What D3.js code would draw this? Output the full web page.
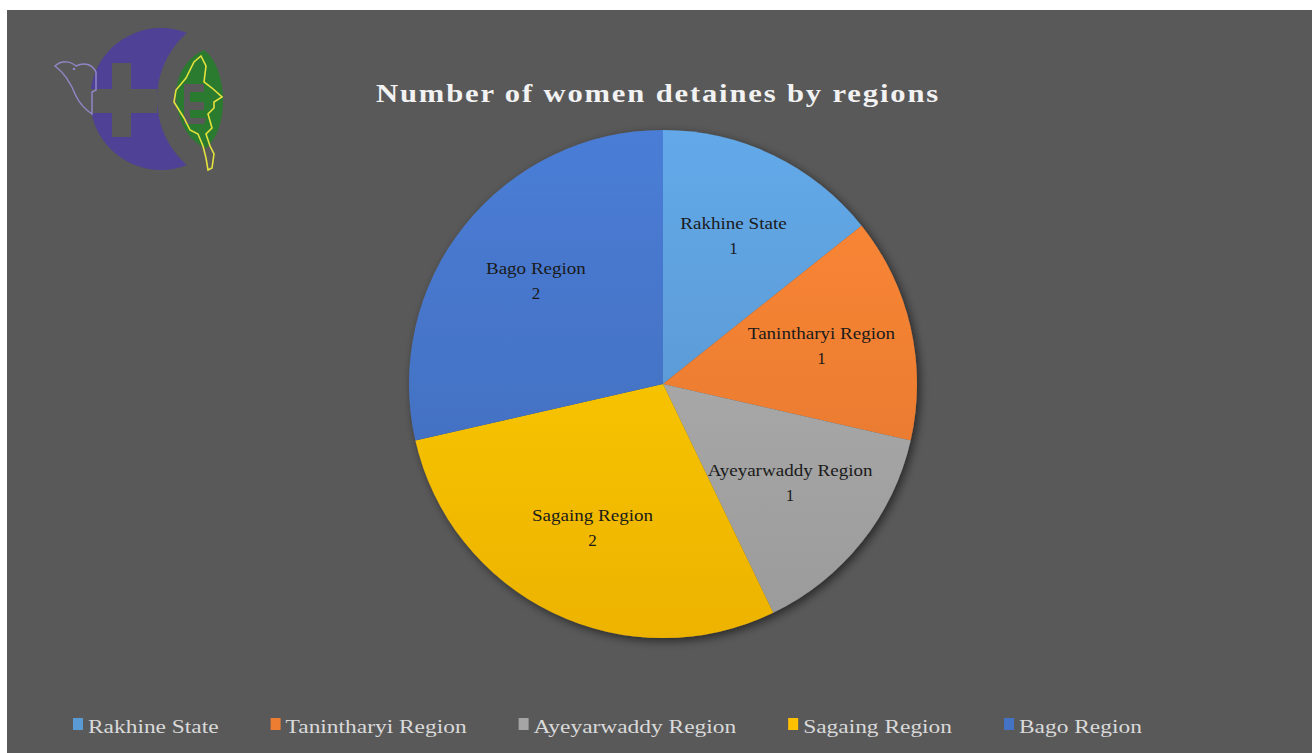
<!DOCTYPE html>
<html>
<head>
<meta charset="utf-8">
<title>Number of women detaines by regions</title>
<script src="https://d3js.org/d3.v7.min.js"></script>
<style>
  body { margin: 0; background: #fff; }
  svg { display: block; }
</style>
</head>
<body>
<div id="chart"></div>
<script>
// data
const regions = ["Rakhine State", "Tanintharyi Region", "Ayeyarwaddy Region", "Sagaing Region", "Bago Region"];
const counts = [1, 1, 1, 2, 2];
const colors = ["#5b9bd5", "#ed7d31", "#a5a5a5", "#ffc000", "#4472c4"];
const title = "Number of women detaines by regions";

const W = 1312, H = 753;
const svg = d3.select("#chart").append("svg")
    .attr("width", W).attr("height", H);

// dark panel (image has a thin white strip top and left)
svg.append("rect")
    .attr("x", 7).attr("y", 10)
    .attr("width", W - 7).attr("height", H - 10)
    .attr("fill", "#595959");

const defs = svg.append("defs");
const cx = 663, cy = 384, r = 254;

const shadow = defs.append("filter").attr("id", "shadow")
    .attr("x", "-20%").attr("y", "-20%").attr("width", "140%").attr("height", "140%");
shadow.append("feDropShadow")
    .attr("dx", 3).attr("dy", 3).attr("stdDeviation", 5)
    .attr("flood-color", "#000").attr("flood-opacity", 0.55);

// office-like vertical gradient per slice colour (group coords)
colors.forEach((c, i) => {
  const g = defs.append("linearGradient").attr("id", "grad" + i)
      .attr("gradientUnits", "userSpaceOnUse")
      .attr("x1", 0).attr("x2", 0).attr("y1", -r).attr("y2", r);
  g.append("stop").attr("offset", "0%").attr("stop-color", d3.color(c).brighter(0.25));
  g.append("stop").attr("offset", "100%").attr("stop-color", d3.color(c).darker(0.2));
});

// title
svg.append("text")
    .attr("x", 376).attr("y", 102)
    .attr("textLength", 564).attr("lengthAdjust", "spacingAndGlyphs")
    .attr("font-family", "Liberation Serif, serif")
    .attr("font-weight", "bold")
    .attr("font-size", 25)
    .attr("letter-spacing", 1.5)
    .attr("fill", "#f2f2f2")
    .text(title);

// pie
const pie = d3.pie().sort(null).value(d => d)(counts);
const arc = d3.arc().innerRadius(0).outerRadius(r);
const labelArc = d3.arc().innerRadius(r * 0.64).outerRadius(r * 0.64);

const g = svg.append("g").attr("transform", `translate(${cx},${cy})`);
g.append("g").attr("filter", "url(#shadow)")
  .selectAll("path")
  .data(pie)
  .join("path")
    .attr("d", arc)
    .attr("fill", (d, i) => "url(#grad" + i + ")");

const labels = g.selectAll("text.lbl")
  .data(pie)
  .join("text")
    .attr("class", "lbl")
    .attr("font-family", "Liberation Serif, serif")
    .attr("font-size", 17)
    .attr("fill", "#1a1a1a")
    .attr("text-anchor", "middle");
labels.each(function (d, i) {
  const [x, y] = labelArc.centroid(d);
  const t = d3.select(this);
  const a = t.append("tspan").attr("x", x).attr("y", y - 9).text(regions[i]);
  a.attr("textLength", a.node().getComputedTextLength() * 1.12).attr("lengthAdjust", "spacingAndGlyphs");
  t.append("tspan").attr("x", x).attr("y", y + 16).text(counts[i]);
});

// legend
const legend = svg.append("g");
let lx = 73;
regions.forEach((name, i) => {
  legend.append("rect")
      .attr("x", lx).attr("y", 718)
      .attr("width", 10).attr("height", 12)
      .attr("fill", colors[i]);
  const t = legend.append("text")
      .attr("x", lx + 15).attr("y", 733)
      .attr("font-family", "Liberation Serif, serif")
      .attr("font-size", 18)
      .attr("fill", "#d9d9d9")
      .text(name);
  const w = t.node().getComputedTextLength() * 1.3;
  t.attr("textLength", w).attr("lengthAdjust", "spacingAndGlyphs");
  lx += 15 + w + 52;
});

// logo (rough drawing)
const logo = svg.append("g");
const cres = defs.append("mask").attr("id", "cres");
cres.append("rect").attr("x", 0).attr("y", 0).attr("width", 300).attr("height", 200).attr("fill", "#fff");
cres.append("circle").attr("cx", 245).attr("cy", 99).attr("r", 88).attr("fill", "#000");
cres.append("rect").attr("x", 85).attr("y", 89).attr("width", 72).attr("height", 24).attr("fill", "#000");
cres.append("rect").attr("x", 112).attr("y", 63).attr("width", 19).attr("height", 74).attr("fill", "#000");
logo.append("circle").attr("cx", 161).attr("cy", 99).attr("r", 71)
    .attr("fill", "#4f4196").attr("mask", "url(#cres)");
// dove
logo.append("path")
    .attr("d", "M55,66 C62,60 70,61 76,66 C84,62 92,64 96,72 L96,90 L92,92 L92,114 C86,110 80,104 76,96 C72,86 66,74 55,66 Z")
    .attr("fill", "none").attr("stroke", "#8f86c6").attr("stroke-width", 1.5);
logo.append("circle").attr("cx", 74).attr("cy", 69).attr("r", 1.3).attr("fill", "#8f86c6");
// leaf + map outline
logo.append("path")
    .attr("d", "M204,50 C228,68 230,128 206,148 C176,138 158,72 204,50 Z")
    .attr("fill", "#2a7b2f");
logo.append("path")
    .attr("d", "M184,84 L204,84 L204,92 L190,92 L190,102 L204,102 L204,110 L190,110 L190,118 L206,118 L204,124 L184,124 Z")
    .attr("fill", "#595959");
logo.append("path")
    .attr("d", "M201,56 L206,66 L204,82 L212,88 L222,97 L214,102 L214,108 L208,114 L212,128 L206,134 L210,146 L214,154 L212,168 L208,170 L206,158 L203,146 L198,134 L190,130 L184,118 L174,102 L176,90 L186,78 L194,62 Z")
    .attr("fill", "none").attr("stroke", "#e4e23c").attr("stroke-width", 1.6);
</script>
</body>
</html>
